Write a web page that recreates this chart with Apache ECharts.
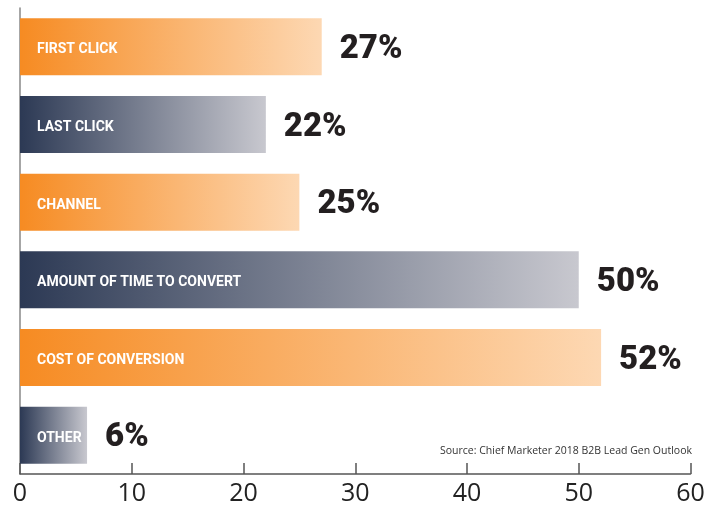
<!DOCTYPE html>
<html>
<head>
<meta charset="utf-8">
<script src="https://cdn.jsdelivr.net/npm/echarts@6/dist/echarts.min.js"></script>
<style>html,body{margin:0;padding:0;background:#fff}#c{width:724px;height:508px}</style>
</head>
<body>
<div id="c"></div>
<script>
const categories = ['FIRST CLICK', 'LAST CLICK', 'CHANNEL', 'AMOUNT OF TIME TO CONVERT', 'COST OF CONVERSION', 'OTHER'];
const values = [27, 22, 25, 50, 52, 6];
const colorGroups = ['orange', 'dark', 'orange', 'dark', 'orange', 'dark'];
const xTicks = [0, 10, 20, 30, 40, 50, 60];
const sourceText = 'Source: Chief Marketer 2018 B2B Lead Gen Outlook';

const gradients = {
  orange: ['#f68b22', '#fdd8b3'],
  dark: ['#2c3954', '#c8c8cf']
};
function grad(kind) {
  const g = gradients[kind];
  return new echarts.graphic.LinearGradient(0, 0, 1, 0, [
    { offset: 0, color: g[0] }, { offset: 1, color: g[1] }
  ]);
}

const chart = echarts.init(document.getElementById('c'));
chart.setOption({
  animation: false,
  grid: { left: 20, right: 33.5, top: 8, bottom: 34 },
  xAxis: {
    type: 'value', min: xTicks[0], max: xTicks[xTicks.length - 1], interval: 10,
    splitLine: { show: false },
    axisLine: { show: true, lineStyle: { color: '#555', width: 1.5 } },
    axisTick: { show: true, inside: true, length: 11, lineStyle: { color: '#555', width: 1.5 } },
    axisLabel: { fontFamily: 'Open Sans', fontSize: 25, color: '#222', margin: 7 }
  },
  yAxis: {
    type: 'category', data: categories, inverse: true,
    axisLine: { show: true, lineStyle: { color: '#888', width: 1.5 } },
    axisTick: { show: false },
    axisLabel: { show: false }
  },
  series: [
    {
      type: 'bar', barWidth: 57,
      data: values.map((v, i) => ({ value: v, itemStyle: { color: grad(colorGroups[i]) } })),
      label: {
        show: true, position: 'insideLeft', distance: 17, offset: [0, 3],
        formatter: p => categories[p.dataIndex],
        fontFamily: 'Roboto', fontWeight: 'bold', fontSize: 14, color: '#fff',
        overflow: 'none'
      },
      z: 2
    },
    {
      type: 'bar', barWidth: 57, barGap: '-100%',
      data: values,
      itemStyle: { color: 'rgba(0,0,0,0)' },
      label: {
        show: true, position: 'right', distance: 18, offset: [0, 3],
        formatter: '{c}%',
        fontFamily: 'Roboto', fontWeight: 900, fontSize: 33, color: '#231f20'
      },
      z: 3
    }
  ],
  graphic: [{
    type: 'text', right: 32, top: 446,
    style: { text: sourceText, fontFamily: 'Open Sans', fontSize: 10.5, fill: '#333' }
  }]
});
</script>
</body>
</html>
